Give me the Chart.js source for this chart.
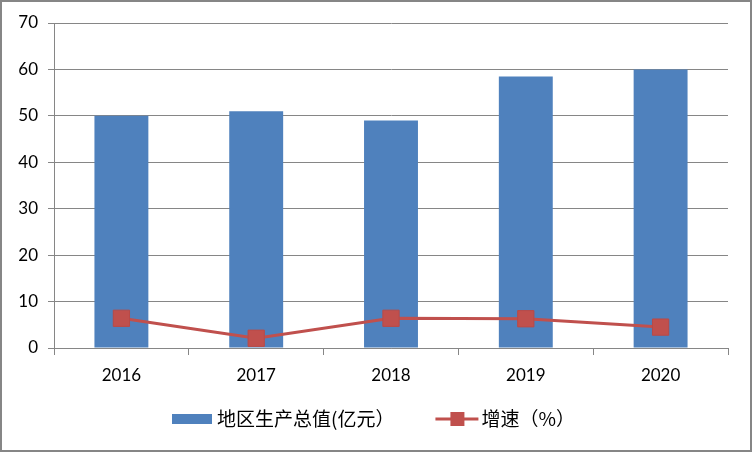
<!DOCTYPE html>
<html><head><meta charset="utf-8">
<script src="https://cdn.jsdelivr.net/npm/chart.js@4.4.0/dist/chart.umd.min.js"></script>
<style>
html,body{margin:0;padding:0;background:#fff;}
#wrap{width:752px;height:452px;box-sizing:border-box;border:2px solid #868686;position:relative;background:#fff;overflow:hidden;}
#c{position:absolute;left:-2px;top:-2px;}
</style></head>
<body><div id="wrap"><canvas id="c" width="752" height="452"></canvas></div>
<script>
const categories = ["2016","2017","2018","2019","2020"];
const gdpValues = [50, 51, 49, 58.5, 60];
const growthValues = [6.4, 2.1, 6.4, 6.3, 4.5];
const yTicks = [0,10,20,30,40,50,60,70];
const seriesNames = ["地区生产总值(亿元）", "增速（%）"];

const BLUE = '#4F81BD', RED = '#C0504D', GRID = '#868686';

const legendPlugin = {
  id: 'bottomLegend',
  afterDraw(chart){
    const ctx = chart.ctx;
    ctx.save();
    ctx.font = '19px "Noto Sans CJK SC", sans-serif';
    ctx.textBaseline = 'middle';
    ctx.textAlign = 'left';
    const w1 = ctx.measureText(seriesNames[0]).width;
    const w2 = ctx.measureText(seriesNames[1]).width;
    const total = 40 + 5 + w1 + 41 + 43 + 3 + w2;
    const cy = 419;
    let x = Math.round(chart.width/2 - 3 - total/2);
    ctx.fillStyle = BLUE;
    ctx.fillRect(x, cy-5, 40, 10);
    x += 45;
    ctx.fillStyle = '#000';
    ctx.fillText(seriesNames[0], x, cy);
    x += w1 + 41;
    ctx.strokeStyle = RED; ctx.lineWidth = 3;
    ctx.beginPath(); ctx.moveTo(x, cy); ctx.lineTo(x+43, cy); ctx.stroke();
    ctx.fillStyle = RED; ctx.fillRect(x+15, cy-7, 14, 14);
    x += 46;
    ctx.fillStyle = '#000';
    ctx.fillText(seriesNames[1], x, cy);
    ctx.restore();
  }
};

new Chart(document.getElementById('c'), {
  data: {
    labels: categories,
    datasets: [
      { type:'line', label: seriesNames[1], data: growthValues, borderColor: RED, backgroundColor: RED, borderWidth: 3,
        pointStyle:'rect', pointRadius: 11.5, pointHoverRadius: 11.5, pointBackgroundColor: RED, pointBorderColor: '#B94A47', pointBorderWidth: 1, order: 0 },
      { type:'bar', label: seriesNames[0], data: gdpValues, backgroundColor: BLUE, barPercentage: 0.4, categoryPercentage: 1.0, order: 1 }
    ]
  },
  options: {
    responsive:false, animation:false, devicePixelRatio:1,
    layout:{ padding:{ left:0, right:24, top:23, bottom:62 } },
    scales:{
      x:{ offset:true,
        grid:{ offset:true, drawOnChartArea:false, drawTicks:true, tickLength:7, color:GRID, lineWidth:1 },
        border:{ color:GRID, width:1 },
        ticks:{ color:'#000', font:{ family:'Lato, "Liberation Sans", sans-serif', size:17 }, padding:10 },
        afterFit(s){ s.height = 42; }
      },
      y:{ min:0, max:70,
        afterBuildTicks(s){ s.ticks = yTicks.map(v=>({value:v})); },
        grid:{ color:GRID, lineWidth:1, tickLength:6 },
        border:{ color:GRID, width:1 },
        ticks:{ color:'#000', font:{ family:'Lato, "Liberation Sans", sans-serif', size:17 }, padding:10 },
        afterFit(s){ s.width = 54; }
      }
    },
    plugins:{ tooltip:{enabled:false}, legend:{ display:false } }
  },
  plugins:[legendPlugin]
});
</script></body></html>
